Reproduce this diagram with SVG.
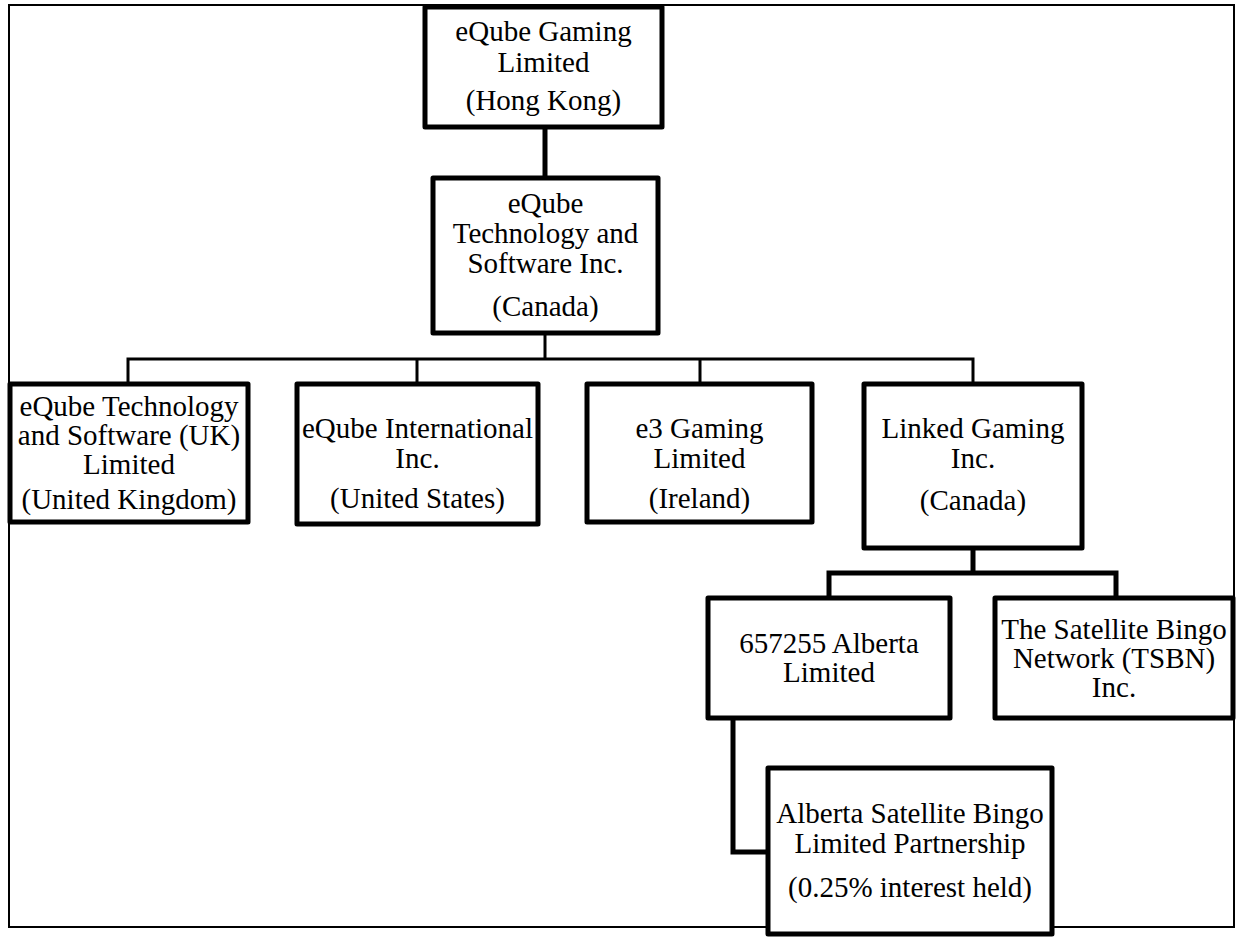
<svg xmlns="http://www.w3.org/2000/svg" width="1238" height="938" viewBox="0 0 1238 938">
<style>
.frame{fill:none;stroke:#000;stroke-width:2}
.box{fill:#fff;stroke:#000;stroke-width:5;stroke-linejoin:round}
.thin{fill:none;stroke:#000;stroke-width:3}
.thick{fill:none;stroke:#000;stroke-width:5}
text{font-family:"Liberation Serif","Times New Roman",serif;font-size:29px;fill:#000;text-anchor:middle}
</style>
<rect width="1238" height="938" fill="#fff"/>
<rect class="frame" x="9" y="5" width="1225" height="922"/>
<g id="connectors">
<path class="thick" d="M545 127V178"/>
<path class="thin" d="M545 333V359M128 384V359H973V384M417 359V384M700 359V384"/>
<path class="thick" d="M973 548V573M829 598V573H1116V598"/>
<path class="thick" d="M733 718V852H768"/>
</g>
<g id="n1"><rect class="box" x="425" y="7" width="237" height="120"/>
<text x="543.5" y="41">eQube Gaming</text><text x="543.5" y="72">Limited</text><text x="543.5" y="110">(Hong Kong)</text></g>
<g id="n2"><rect class="box" x="433" y="178" width="225" height="155"/>
<text x="545.5" y="213">eQube</text><text x="545.5" y="243">Technology and</text><text x="545.5" y="273">Software Inc.</text><text x="545.5" y="316">(Canada)</text></g>
<g id="n3"><rect class="box" x="10" y="384" width="238" height="138"/>
<text x="129" y="416">eQube Technology</text><text x="129" y="445">and Software (UK)</text><text x="129" y="474">Limited</text><text x="129" y="509">(United Kingdom)</text></g>
<g id="n4"><rect class="box" x="297" y="384" width="241" height="140"/>
<text x="417.5" y="438">eQube International</text><text x="417.5" y="468">Inc.</text><text x="417.5" y="508">(United States)</text></g>
<g id="n5"><rect class="box" x="587" y="384" width="225" height="138"/>
<text x="699.5" y="438">e3 Gaming</text><text x="699.5" y="468">Limited</text><text x="699.5" y="508">(Ireland)</text></g>
<g id="n6"><rect class="box" x="864" y="384" width="218" height="164"/>
<text x="973" y="438">Linked Gaming</text><text x="973" y="468">Inc.</text><text x="973" y="510">(Canada)</text></g>
<g id="n7"><rect class="box" x="708" y="598" width="242" height="120"/>
<text x="829" y="653">657255 Alberta</text><text x="829" y="682">Limited</text></g>
<g id="n8"><rect class="box" x="995" y="598" width="238" height="120"/>
<text x="1114" y="639">The Satellite Bingo</text><text x="1114" y="668">Network (TSBN)</text><text x="1114" y="697">Inc.</text></g>
<g id="n9"><rect class="box" x="768" y="768" width="284" height="166"/>
<text x="910" y="823">Alberta Satellite Bingo</text><text x="910" y="853">Limited Partnership</text><text x="910" y="897">(0.25% interest held)</text></g>
</svg>
